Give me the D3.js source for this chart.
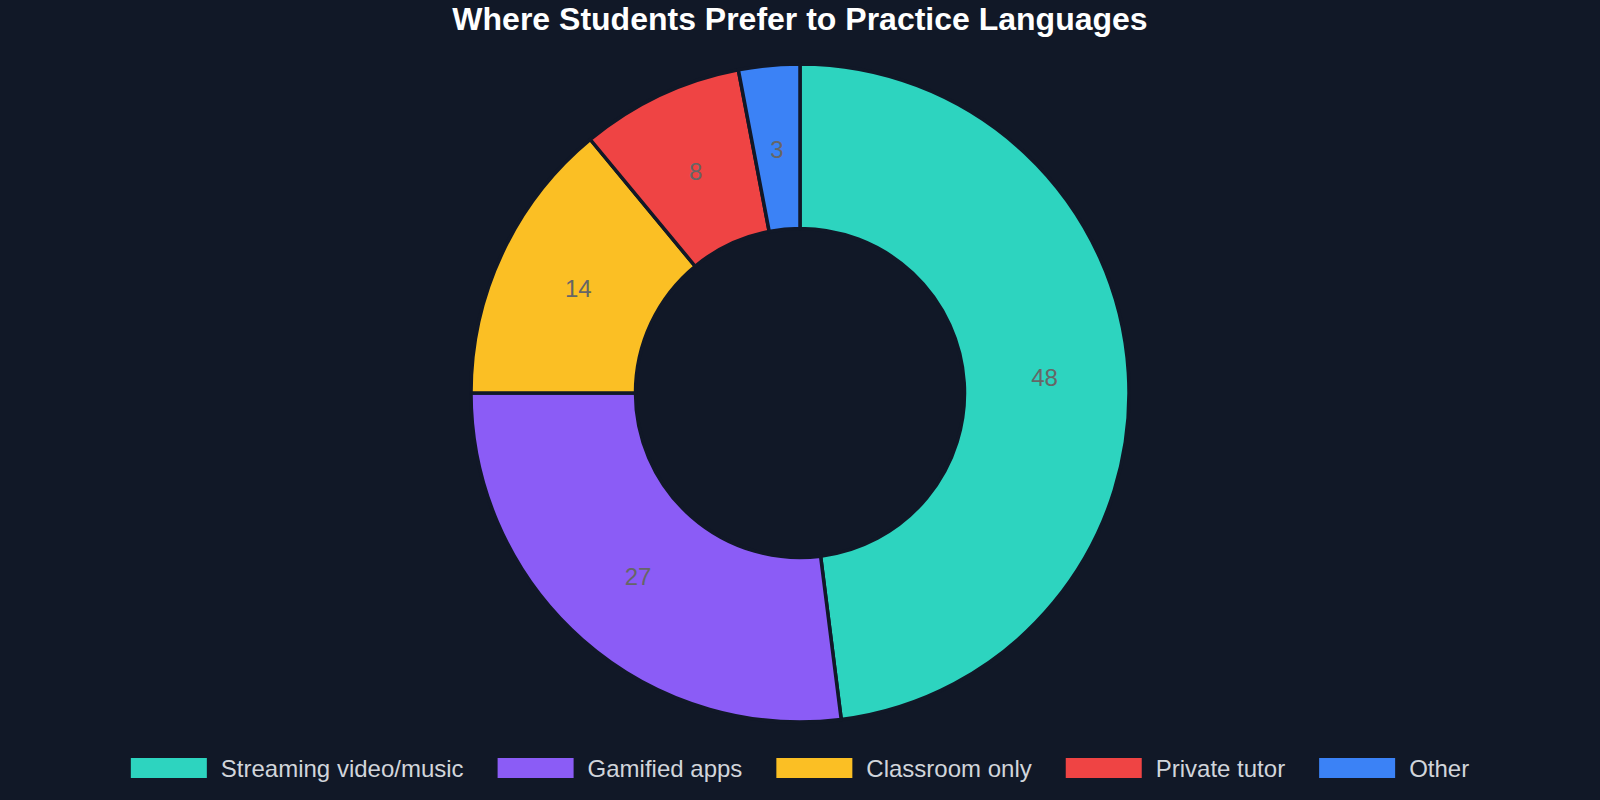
<!DOCTYPE html>
<html>
<head>
<meta charset="utf-8">
<script src="https://cdn.jsdelivr.net/npm/d3@7"></script>
<style>
  html, body { margin: 0; padding: 0; background: #111827; }
  svg { display: block; font-family: "Liberation Sans", Arial, Helvetica, sans-serif; }
</style>
</head>
<body>
<svg id="chart" width="1600" height="800"></svg>
<script>
const categories = ['Streaming video/music', 'Gamified apps', 'Classroom only', 'Private tutor', 'Other'];
const values = [48, 27, 14, 8, 3];
const colors = ['#2dd4bf', '#8b5cf6', '#fbbf24', '#ef4444', '#3b82f6'];
const title = 'Where Students Prefer to Practice Languages';

const width = 1600, height = 800;
const bg = '#111827';
const cx = 800, cy = 393;
const outerR = 329, innerR = 164.5;
const labelR = 245;

const svg = d3.select('#chart');
svg.append('rect').attr('width', width).attr('height', height).attr('fill', bg);

// title
svg.append('text')
  .attr('x', width / 2)
  .attr('y', 30)
  .attr('text-anchor', 'middle')
  .attr('fill', '#ffffff')
  .attr('font-size', 32)
  .attr('font-weight', 'bold')
  .text(title);

const data = categories.map((c, i) => ({ label: c, value: values[i], color: colors[i] }));

const pie = d3.pie().sort(null).value(d => d.value);
const arc = d3.arc().innerRadius(innerR).outerRadius(outerR);
const labelArc = d3.arc().innerRadius(labelR).outerRadius(labelR);

const g = svg.append('g').attr('transform', `translate(${cx},${cy})`);

// slices
g.selectAll('path.slice')
  .data(pie(data))
  .join('path')
  .attr('class', 'slice')
  .attr('d', arc)
  .attr('fill', d => d.data.color)
  .attr('stroke', bg)
  .attr('stroke-width', 3.5)
  .attr('stroke-linejoin', 'round');

// value labels
g.selectAll('text.val')
  .data(pie(data))
  .join('text')
  .attr('class', 'val')
  .attr('transform', d => `translate(${labelArc.centroid(d)})`)
  .attr('text-anchor', 'middle')
  .attr('dy', '0.36em')
  .attr('fill', '#666666')
  .attr('font-size', 24)
  .text(d => d.data.value);

// legend along the bottom, centred
const boxW = 76, boxH = 20, textGap = 14, itemGap = 34;
const legendY = 768;
const legend = svg.append('g');
const items = legend.selectAll('g.item')
  .data(data)
  .join('g')
  .attr('class', 'item');

items.append('rect')
  .attr('width', boxW)
  .attr('height', boxH)
  .attr('y', legendY - boxH / 2)
  .attr('fill', d => d.color);

items.append('text')
  .attr('x', boxW + textGap)
  .attr('y', legendY)
  .attr('dy', '0.36em')
  .attr('fill', '#d1d5db')
  .attr('font-size', 24)
  .text(d => d.label);

let widths = [];
items.each(function() {
  widths.push(boxW + textGap + d3.select(this).select('text').node().getComputedTextLength());
});
const total = d3.sum(widths) + itemGap * (widths.length - 1);
let xPos = (width - total) / 2;
items.attr('transform', (d, i) => {
  const t = `translate(${xPos},0)`;
  xPos += widths[i] + itemGap;
  return t;
});
</script>
</body>
</html>
